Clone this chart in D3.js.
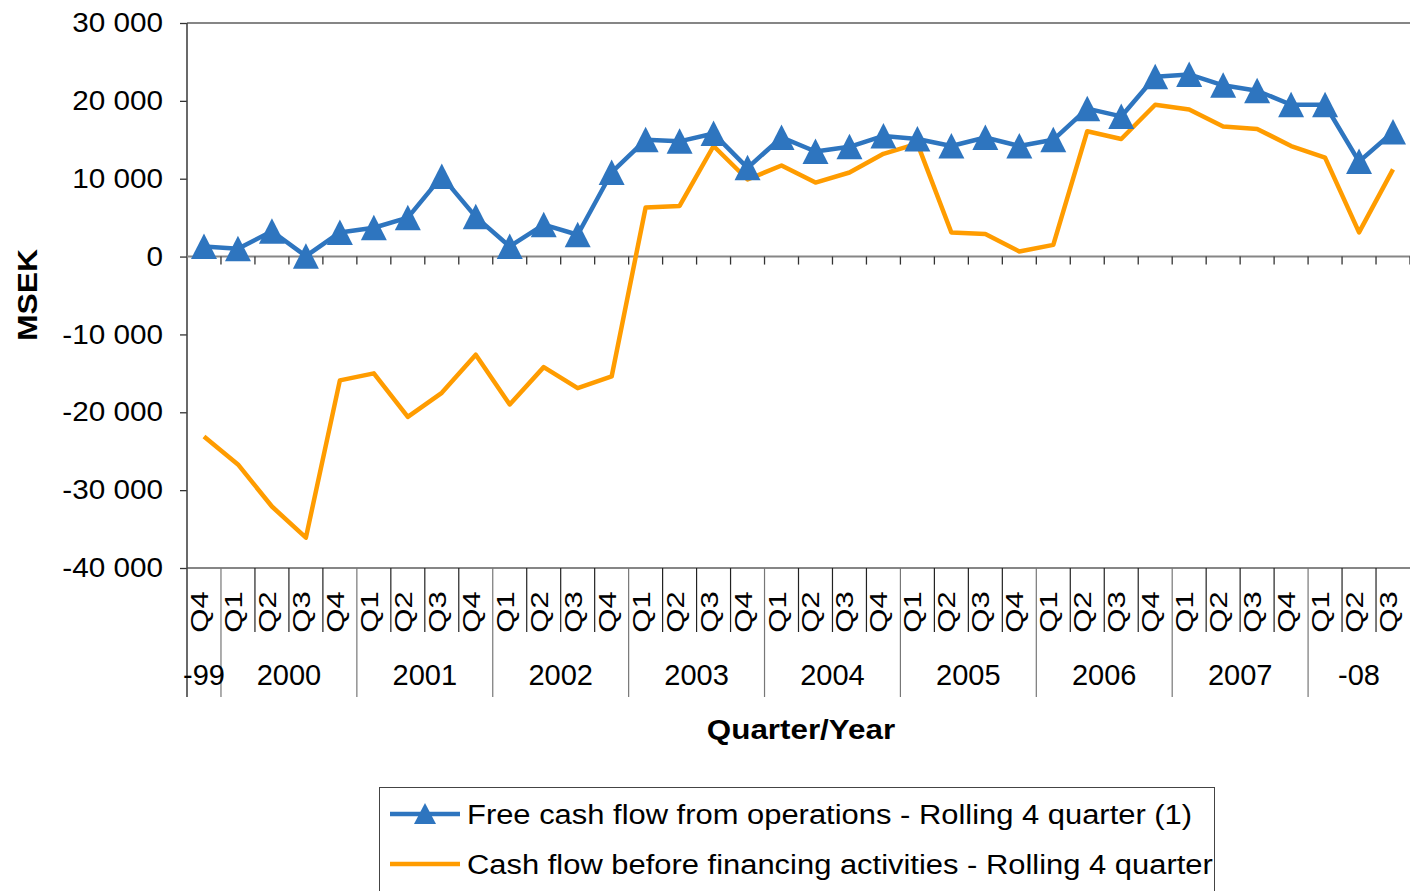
<!DOCTYPE html>
<html>
<head>
<meta charset="utf-8">
<script src="https://cdn.jsdelivr.net/npm/d3@7"></script>
<style>
  body { margin: 0; background: #fff; }
  text { font-family: "Liberation Sans", Arial, sans-serif; fill: #000; }
</style>
</head>
<body>
<div id="chart"></div>
<script>
/* Data */
var quarters = ["Q4",
    "Q1", "Q2", "Q3", "Q4",
    "Q1", "Q2", "Q3", "Q4",
    "Q1", "Q2", "Q3", "Q4",
    "Q1", "Q2", "Q3", "Q4",
    "Q1", "Q2", "Q3", "Q4",
    "Q1", "Q2", "Q3", "Q4",
    "Q1", "Q2", "Q3", "Q4",
    "Q1", "Q2", "Q3", "Q4",
    "Q1", "Q2", "Q3"];
var yearLabels = ["-99", "2000", "2001", "2002", "2003", "2004", "2005", "2006", "2007", "-08"];
var yearCounts = [1, 4, 4, 4, 4, 4, 4, 4, 4, 3];

var freeCashFlow = [1300, 1000, 3250, 50, 3100, 3700, 5000, 10300, 5100, 1300, 4100, 2800,
    10800, 15000, 14800, 15800, 11400, 15300, 13500, 14100, 15500, 15100, 14200, 15300,
    14200, 15000, 19000, 18000, 23100, 23400, 22000, 21300, 19500, 19500, 12200, 16000];
var cashBeforeFin = [-23100, -26700, -32100, -36100, -15900, -15000, -20600, -17500, -12600, -19000, -14200, -16900,
    -15400, 6300, 6500, 14200, 9900, 11700, 9500, 10800, 13200, 14500, 3100, 2900,
    650, 1500, 16100, 15100, 19500, 18900, 16700, 16400, 14200, 12700, 3100, 11200];
var yTicks = [-40000, -30000, -20000, -10000, 0, 10000, 20000, 30000];
var seriesNames = ["Free cash flow from operations - Rolling 4 quarter (1)",
    "Cash flow before financing activities - Rolling 4 quarter"];

/* Layout */
var inputWidth = 1410,
    inputHeight = 891;
var plot = { left: 187, right: 1410, top: 23, bottom: 568 };
var blue = "#2E75BF",
    orange = "#FF9C00",
    axisGrey = "#868686";

var svg = d3.select("#chart").append("svg")
    .attr("width", inputWidth)
    .attr("height", inputHeight);

var x = d3.scaleBand()
    .domain(d3.range(quarters.length))
    .range([plot.left, plot.right]);

var y = d3.scaleLinear()
    .domain([-40000, 30000])
    .range([plot.bottom, plot.top]);

var locale = d3.formatLocale({ decimal: ",", thousands: " ", grouping: [3], currency: ["", ""], minus: "-" });
var fmt = locale.format(",");

// stretch text along its baseline (source fonts are wider than Liberation)
function stretch(sel, k) {
    sel.each(function() {
        var len = this.getComputedTextLength();
        d3.select(this).attr("textLength", len * k).attr("lengthAdjust", "spacingAndGlyphs");
    });
}

/* Frame lines */
svg.append("line")
    .attr("x1", plot.left).attr("x2", plot.right)
    .attr("y1", y(30000)).attr("y2", y(30000))
    .attr("stroke", axisGrey).attr("stroke-width", 2);
svg.append("line")
    .attr("x1", plot.left).attr("x2", plot.right)
    .attr("y1", plot.bottom).attr("y2", plot.bottom)
    .attr("stroke", axisGrey).attr("stroke-width", 2);

/* Y axis */
var yAxis = svg.append("g")
    .attr("transform", "translate(" + plot.left + ",0)")
    .call(d3.axisLeft(y).tickValues(yTicks).tickFormat(fmt).tickSize(7).tickSizeOuter(0).tickPadding(17));
yAxis.select(".domain").remove();
yAxis.selectAll(".tick line").attr("stroke", "#333").attr("stroke-width", 1.3);
yAxis.selectAll(".tick text")
    .attr("font-size", 27)
    .attr("font-family", "Liberation Sans, Arial, sans-serif")
    .call(stretch, 1.1);

svg.append("line")
    .attr("x1", plot.left).attr("x2", plot.left)
    .attr("y1", plot.top).attr("y2", 697)
    .attr("stroke", "#444").attr("stroke-width", 1.6);

/* Zero line with category ticks */
svg.append("line")
    .attr("x1", plot.left).attr("x2", plot.right)
    .attr("y1", y(0)).attr("y2", y(0))
    .attr("stroke", axisGrey).attr("stroke-width", 2);

var bounds = d3.range(1, quarters.length + 1).map(function(i) { return plot.left + i * x.step(); });
svg.append("g").selectAll("line")
    .data(bounds)
    .enter().append("line")
    .attr("x1", function(d) { return d; }).attr("x2", function(d) { return d; })
    .attr("y1", y(0)).attr("y2", y(0) + 8)
    .attr("stroke", "#333").attr("stroke-width", 1.3);

/* Category labels (quarters + years) */
var yearStart = [];
var acc = 0;
yearCounts.forEach(function(c) { yearStart.push(acc); acc += c; });
var yearEnds = yearStart.map(function(s, i) { return s + yearCounts[i]; });

svg.append("g").selectAll("line")
    .data(bounds.slice(0, -1))
    .enter().append("line")
    .attr("x1", function(d) { return d; }).attr("x2", function(d) { return d; })
    .attr("y1", plot.bottom).attr("y2", function(d, i) {
        return yearEnds.indexOf(i + 1) >= 0 ? 697 : 632;
    })
    .attr("stroke", function(d, i) { return yearEnds.indexOf(i + 1) >= 0 ? "#777" : "#222"; })
    .attr("stroke-width", 1.2);

svg.append("g").selectAll("text")
    .data(quarters)
    .enter().append("text")
    .attr("transform", function(d, i) {
        return "translate(" + (x(i) + x.bandwidth() / 2 + 4) + ",612) rotate(-90)";
    })
    .attr("text-anchor", "middle")
    .attr("font-size", 23)
    .text(function(d) { return d; })
    .call(stretch, 1.35);

svg.append("g").selectAll("text")
    .data(yearLabels)
    .enter().append("text")
    .attr("x", function(d, i) {
        return (x(yearStart[i]) + x(yearEnds[i] - 1) + x.bandwidth()) / 2;
    })
    .attr("y", 685)
    .attr("text-anchor", "middle")
    .attr("font-size", 29)
    .text(function(d) { return d; });

/* Axis titles */
svg.append("text")
    .attr("transform", "translate(37,295) rotate(-90)")
    .attr("text-anchor", "middle")
    .attr("font-size", 27)
    .attr("font-weight", "bold")
    .text("MSEK")
    .call(stretch, 1.18);

svg.append("text")
    .attr("x", 801)
    .attr("y", 739)
    .attr("text-anchor", "middle")
    .attr("font-size", 28)
    .attr("font-weight", "bold")
    .text("Quarter/Year")
    .call(stretch, 1.12);

/* Series */
var line = d3.line()
    .x(function(d, i) { return x(i) + x.bandwidth() / 2; })
    .y(function(d) { return y(d); });

svg.append("path")
    .datum(cashBeforeFin)
    .attr("d", line)
    .attr("fill", "none")
    .attr("stroke", orange)
    .attr("stroke-width", 4.5)
    .attr("stroke-linejoin", "round");

svg.append("path")
    .datum(freeCashFlow)
    .attr("d", line)
    .attr("fill", "none")
    .attr("stroke", blue)
    .attr("stroke-width", 4.5)
    .attr("stroke-linejoin", "round");

var tri = "M0,-13L13,12.5L-13,12.5Z";
svg.append("g").selectAll("path")
    .data(freeCashFlow)
    .enter().append("path")
    .attr("d", tri)
    .attr("transform", function(d, i) {
        return "translate(" + (x(i) + x.bandwidth() / 2) + "," + y(d) + ")";
    })
    .attr("fill", blue);

/* Legend */
var legend = svg.append("g");
legend.append("rect")
    .attr("x", 379.5).attr("y", 787.5)
    .attr("width", 835).attr("height", 120)
    .attr("fill", "#fff")
    .attr("stroke", "#444")
    .attr("stroke-width", 1);

var legendColors = [blue, orange];
var items = legend.selectAll("g.item")
    .data(seriesNames)
    .enter().append("g")
    .attr("class", "item")
    .attr("transform", function(d, i) { return "translate(0," + (814 + i * 50) + ")"; });

items.append("line")
    .attr("x1", 390).attr("x2", 460)
    .attr("stroke", function(d, i) { return legendColors[i]; })
    .attr("stroke-width", 4.5);

items.filter(function(d, i) { return i === 0; })
    .append("path")
    .attr("d", "M0,-11L11,10L-11,10Z")
    .attr("transform", "translate(425,0)")
    .attr("fill", blue);

items.append("text")
    .attr("x", 467)
    .attr("y", 10)
    .attr("font-size", 27)
    .text(function(d) { return d; })
    .call(stretch, 1.145);
</script>
</body>
</html>
